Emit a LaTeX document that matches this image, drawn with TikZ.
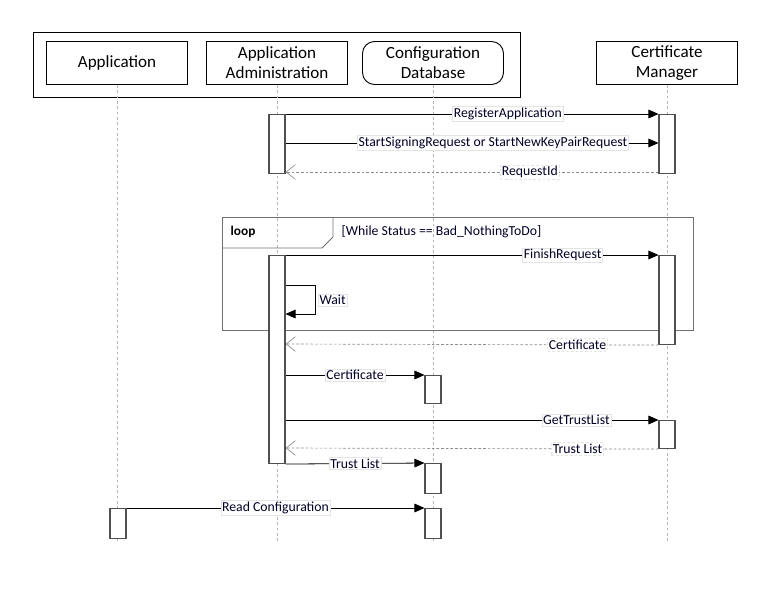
\documentclass[tikz,border=0pt]{standalone}
\usepackage{fontspec}
\setmainfont{Carlito}
\usetikzlibrary{arrows.meta}
\definecolor{lifec}{HTML}{B4B4B4}
\definecolor{framec}{HTML}{707070}
\definecolor{actc}{HTML}{505050}
\definecolor{retc}{HTML}{8C8C8C}
\definecolor{lblc}{HTML}{E4E4E4}
\tikzset{
  head/.style={draw=black, line width=0.7pt, fill=white, minimum width={141*0.75pt}, minimum height={43*0.75pt}, align=center, font=\fontsize{12.8}{15}\selectfont, inner sep=1pt},
  life/.style={draw=lifec, line width=0.5pt, dash pattern=on 2pt off 2pt},
  act/.style={draw=actc, line width=0.8pt, fill=white, minimum width={16*0.75pt}, inner sep=0pt, anchor=north},
  msg/.style={draw=black, line width=0.6pt, -{Triangle[length=7.5pt,width=6.5pt]}},
  ret/.style={draw=retc, line width=0.5pt, dash pattern=on 2pt off 1.5pt, -{Straight Barb[length=7pt,width=11pt,line width=0.5pt]}},
  lbl/.style={fill=white, draw=lblc, line width=0.4pt, inner sep=1pt, font=\fontsize{10.3}{11}\selectfont, text=black!85!blue},
  loopframe/.style={draw=framec, line width=0.7pt}
}
\begin{document}
\begin{tikzpicture}[x=0.75pt,y=-0.75pt]
\useasboundingbox (0,0) rectangle (770,600);
% outer frame
\node[draw=black, line width=0.8pt, minimum width={487*0.75pt}, minimum height={65*0.75pt}, inner sep=0pt, anchor=north west] (grp) at (33,32) {};
% heads
\node[head] (app) at (117,63) {Application};
\node[head] (adm) at (277,63) {Application\\Administration};
\node[head, rounded corners=9pt] (db) at (433,63) {Configuration\\Database};
\node[head] (cm) at (667,63) {Certificate\\Manager};
\coordinate (end) at (0,541);
% lifelines
\foreach \n in {app,adm,db,cm} \draw[life] (\n.south) -- (\n.south |- end);
% loop frame
\node[loopframe, minimum width={471*0.75pt}, minimum height={113*0.75pt}, inner sep=0pt, anchor=north west] (loop) at (222,217) {};
\draw[loopframe] (222,248) -- (322,248) -- (333,237) -- (333,217);
\node[font=\fontsize{10}{11}\selectfont\bfseries, anchor=west] (looplbl) at (226,232) {loop};
\node[font=\fontsize{10.3}{11}\selectfont, anchor=west, text=black!85!blue] (guard) at (337,232) {[While Status == Bad\_NothingToDo]};
% activation bars
\node[act, minimum height={59*0.75pt}] (a1) at (277,114) {};
\node[act, minimum height={59*0.75pt}] (c1) at (667,114) {};
\node[act, minimum height={208*0.75pt}] (a2) at (277,255) {};
\node[act, minimum height={89*0.75pt}] (c2) at (667,255) {};
\node[act, minimum height={28*0.75pt}] (d1) at (433,375) {};
\node[act, minimum height={28*0.75pt}] (c3) at (667,420) {};
\node[act, minimum height={30*0.75pt}] (d2) at (433,463) {};
\node[act, minimum height={30*0.75pt}] (p1) at (118,508) {};
\node[act, minimum height={30*0.75pt}] (d3) at (433,508) {};
% message rows
\coordinate (m2) at (0,143);
\coordinate (m3) at (0,172);
\coordinate (w1) at (315,285);
\coordinate (w2) at (315,314);
\coordinate (m6) at (0,344);
\coordinate (m9) at (0,448);
% messages
\draw[msg] (a1.north east) -- (c1.north west) node[lbl, pos=0.596] (l1) {RegisterApplication};
\draw[msg] (a1.east |- m2) -- (c1.west |- m2) node[lbl, pos=0.556] (l2) {StartSigningRequest or StartNewKeyPairRequest};
\draw[ret] (c1.west |- m3) -- (a1.east |- m3) node[lbl, pos=0.345] (l3) {RequestId};
\draw[msg] (a2.north east) -- (c2.north west) node[lbl, pos=0.743] (l4) {FinishRequest};
\draw[msg] (a2.east |- w1) -- (w1) -- (w2) -- (a2.east |- w2);
\node[lbl, anchor=west] (l5) at (318,300) {Wait};
\draw[ret] (c2.south west) -- (a2.east |- m6) node[lbl, pos=0.217] (l6) {Certificate};
\draw[msg] (a2.east |- d1.north) -- (d1.north west) node[lbl, pos=0.5] (l7) {Certificate};
\draw[msg] (a2.east |- c3.north) -- (c3.north west) node[lbl, pos=0.78] (l8) {GetTrustList};
\draw[ret] (c3.south west) -- (a2.east |- m9) node[lbl, pos=0.217] (l9) {Trust List};
\draw[msg] (a2.south east) -- (d2.north west) node[lbl, pos=0.5] (l10) {Trust List};
\draw[msg] (p1.north east) -- (d3.north west) node[lbl, pos=0.5] (l11) {Read Configuration};
\end{tikzpicture}
\end{document}
